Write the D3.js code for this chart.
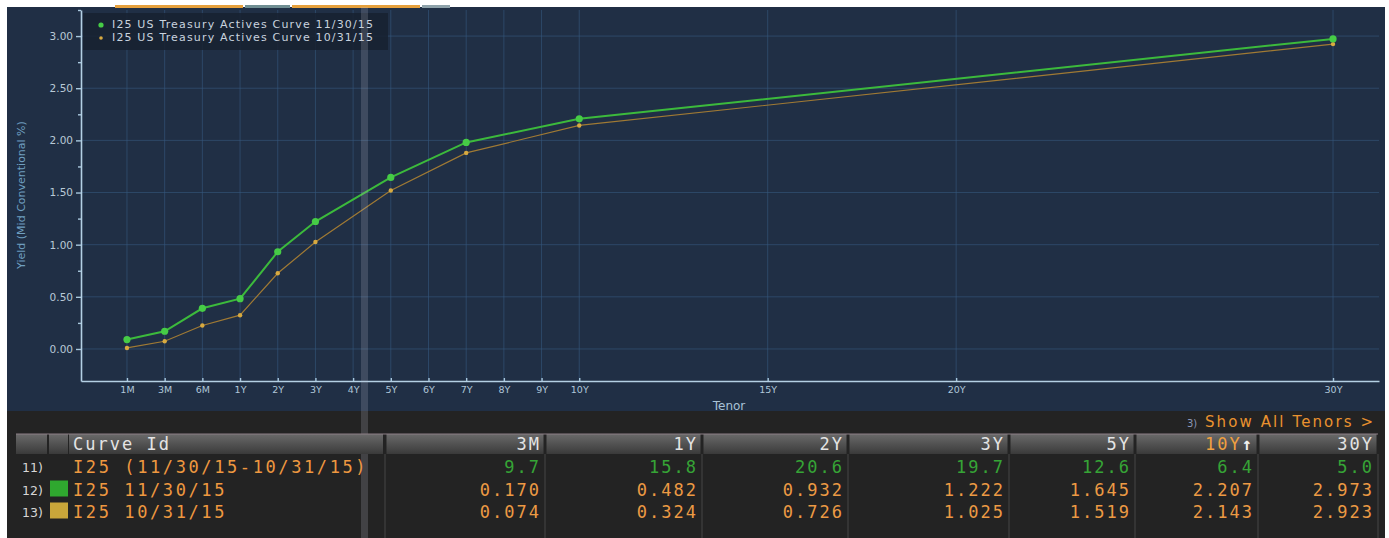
<!DOCTYPE html>
<html>
<head>
<meta charset="utf-8">
<script src="https://cdn.jsdelivr.net/npm/d3@7"></script>
<style>
  body { margin: 0; background: #fff; }
  svg { display: block; }
</style>
</head>
<body>
<svg id="main-svg" width="1389" height="538"></svg>
<script>
'use strict'

// curve points (table values where given)
const curveYears = [1 / 12, 0.25, 0.5, 1, 2, 3, 5, 7, 10, 30]
const novYields = [0.09, 0.170, 0.39, 0.482, 0.932, 1.222, 1.645, 1.98, 2.207, 2.973]
const octYields = [0.01, 0.074, 0.225, 0.324, 0.726, 1.025, 1.519, 1.88, 2.143, 2.923]
const seriesNames = ['I25 US Treasury Actives Curve 11/30/15', 'I25 US Treasury Actives Curve 10/31/15']

// axis ticks
const tickLabels = ['1M', '3M', '6M', '1Y', '2Y', '3Y', '4Y', '5Y', '6Y', '7Y', '8Y', '9Y', '10Y', '15Y', '20Y', '30Y']
const tickYears = [1 / 12, 0.25, 0.5, 1, 2, 3, 4, 5, 6, 7, 8, 9, 10, 15, 20, 30]
const yTicks = [0, 0.5, 1, 1.5, 2, 2.5, 3]
const yMinorTicks = [0.25, 0.75, 1.25, 1.75, 2.25, 2.75, 3.25]

// table below the chart
const tableTenors = ['3M', '1Y', '2Y', '3Y', '5Y', '10Y', '30Y']
const tableChange = [9.7, 15.8, 20.6, 19.7, 12.6, 6.4, 5.0]
const tableNov = [0.170, 0.482, 0.932, 1.222, 1.645, 2.207, 2.973]
const tableOct = [0.074, 0.324, 0.726, 1.025, 1.519, 2.143, 2.923]
const rowIds = ['11)', '12)', '13)']
const rowNames = ['I25 (11/30/15-10/31/15)', 'I25 11/30/15', 'I25 10/31/15']

// layout
const plot = { left: 81, right: 1379, top: 10, bottom: 381 }
const colEdges = [385, 545, 702, 848, 1009, 1135, 1258, 1378]
const rowBase = [473, 495.5, 517.5]
const monoFont = "'DejaVu Sans Mono', monospace"

const svg = d3.select('#main-svg')

// panels
svg.append('rect').attr('x', 7).attr('y', 7).attr('width', 1378).attr('height', 404).attr('fill', '#202f45')
svg.append('rect').attr('x', 7).attr('y', 411).attr('width', 1378).attr('height', 127).attr('fill', '#232323')

// tab strips at the top edge
const tabs = [[115, 243, '#e6a03c'], [245, 290, '#6f8e92'], [292, 420, '#e6a03c'], [422, 450, '#8ea2aa']]
svg.selectAll('.tab').data(tabs).join('rect')
  .attr('x', d => d[0]).attr('y', 5).attr('width', d => d[1] - d[0]).attr('height', 3)
  .attr('fill', d => d[2])

// scales: short end is spaced one step per tenor, then linear in years
const tenorUnit = d3.scaleLinear().domain([1 / 12, 0.25, 0.5, 1, 30]).range([-2, -1, 0, 1, 30])
const x = d3.scaleLinear().domain([-3.22, 31.22]).range([plot.left, plot.right])
const y = d3.scaleLinear().domain([-0.307, 3.25]).range([plot.bottom, plot.top])
const xPos = yrs => x(tenorUnit(yrs))

// grid
const grid = svg.append('g').attr('stroke', '#36587e').attr('stroke-opacity', 0.6).attr('stroke-width', 1)
grid.selectAll('.vg').data(tickYears).join('line')
  .attr('x1', d => xPos(d)).attr('x2', d => xPos(d))
  .attr('y1', plot.top).attr('y2', plot.bottom)
grid.selectAll('.hg').data(yTicks).join('line')
  .attr('x1', plot.left).attr('x2', plot.right)
  .attr('y1', d => y(d)).attr('y2', d => y(d))

// axes
const yAxis = svg.append('g').attr('transform', `translate(${plot.left},0)`)
  .call(d3.axisLeft(y).tickValues(yTicks).tickFormat(d3.format('.2f')).tickSize(5).tickSizeOuter(0).tickPadding(3))
svg.append('g').attr('transform', `translate(${plot.left},0)`)
  .call(d3.axisLeft(y).tickValues(yMinorTicks).tickFormat('').tickSize(3).tickSizeOuter(0))
  .call(g => g.select('.domain').remove())

const xAxis = svg.append('g').attr('transform', `translate(0,${plot.bottom})`)
  .call(d3.axisBottom(x).tickValues(tickYears.map(tenorUnit)).tickFormat((d, i) => tickLabels[i])
    .tickSize(-3).tickSizeOuter(0).tickPadding(5))

svg.selectAll('.domain').attr('stroke', '#b4d0e4').attr('stroke-width', 1.6)
svg.selectAll('.tick line').attr('stroke', '#a9c8de').attr('stroke-width', 1.4)
yAxis.selectAll('text').attr('fill', '#b9c9d6').attr('font-family', 'DejaVu Sans').attr('font-size', 10.5)
xAxis.selectAll('text').attr('fill', '#afc6d8').attr('font-family', 'DejaVu Sans').attr('font-size', 9.5)

svg.append('text').attr('transform', 'translate(22,195) rotate(-90)')
  .attr('text-anchor', 'middle').attr('dominant-baseline', 'middle')
  .attr('fill', '#6f9fc0').attr('font-family', 'DejaVu Sans').attr('font-size', 11)
  .text('Yield (Mid Conventional %)')
svg.append('text').attr('x', 729).attr('y', 410).attr('text-anchor', 'middle')
  .attr('fill', '#a9c2d6').attr('font-family', 'DejaVu Sans').attr('font-size', 12)
  .text('Tenor')

// curves
const line = d3.line().x((d, i) => xPos(curveYears[i])).y(d => y(d))
svg.append('path').datum(octYields).attr('d', line)
  .attr('fill', 'none').attr('stroke', '#a07a34').attr('stroke-width', 1.2)
svg.append('path').datum(novYields).attr('d', line)
  .attr('fill', 'none').attr('stroke', '#3cba3c').attr('stroke-width', 2)
svg.selectAll('.oct-pt').data(octYields).join('circle')
  .attr('cx', (d, i) => xPos(curveYears[i])).attr('cy', d => y(d)).attr('r', 2.2)
  .attr('fill', '#d8aa40')
svg.selectAll('.nov-pt').data(novYields).join('circle')
  .attr('cx', (d, i) => xPos(curveYears[i])).attr('cy', d => y(d)).attr('r', 3.6)
  .attr('fill', '#46cc46')

// legend
const legend = svg.append('g')
legend.append('rect').attr('x', 83).attr('y', 13).attr('width', 305).attr('height', 37)
  .attr('fill', '#172130').attr('opacity', 0.85)
const legendColors = ['#46cc46', '#d8aa40']
seriesNames.forEach((name, i) => {
  legend.append('circle').attr('cx', 101).attr('cy', 25 + i * 13).attr('r', i === 0 ? 2.6 : 1.8)
    .attr('fill', legendColors[i])
  legend.append('text').attr('x', 112).attr('y', 25 + i * 13).attr('dominant-baseline', 'middle')
    .attr('fill', '#c9d3df').attr('font-family', 'DejaVu Sans').attr('font-size', 11)
    .attr('textLength', 261).text(name)
})

// light streak across the picture
svg.append('rect').attr('x', 361).attr('y', 7).attr('width', 7).attr('height', 531)
  .attr('fill', '#c0c0cc').attr('opacity', 0.2)

// table
const defs = svg.append('defs')
const grad = defs.append('linearGradient').attr('id', 'hdr').attr('x1', 0).attr('x2', 0).attr('y1', 0).attr('y2', 1)
grad.append('stop').attr('offset', '0%').attr('stop-color', '#6a6a6a')
grad.append('stop').attr('offset', '100%').attr('stop-color', '#3a3a3a')

const table = svg.append('g')
const headerCells = [[16, 47], [49, 68], [69, 383]].concat(d3.pairs(colEdges).map(p => [p[0] + 1.5, p[1] - 1.5]))
table.selectAll('.hdr').data(headerCells).join('rect')
  .attr('x', d => d[0]).attr('y', 434).attr('width', d => d[1] - d[0]).attr('height', 20)
  .attr('fill', 'url(#hdr)')
table.append('line').attr('x1', 16).attr('x2', 1378).attr('y1', 434).attr('y2', 434)
  .attr('stroke', '#8c7f86').attr('stroke-width', 1.2)
table.selectAll('.sep').data(colEdges).join('line')
  .attr('x1', d => d).attr('x2', d => d).attr('y1', 454).attr('y2', 538)
  .attr('stroke', '#3b3b3b').attr('stroke-width', 1.5)

const cellText = (sel) => sel.attr('font-family', monoFont).attr('font-size', 17).attr('letter-spacing', 2)

table.append('text').attr('x', 73).attr('y', 450).call(cellText).attr('fill', '#e4e4e4').text('Curve Id')

d3.pairs(colEdges).forEach((p, i) => {
  const tx = p[1] - 4
  const h = table.append('text').attr('x', tx).attr('y', 450).attr('text-anchor', 'end').call(cellText)
  if (tableTenors[i] === '10Y') {
    h.append('tspan').attr('fill', '#f0a040').text('10Y')
    h.append('tspan').attr('fill', '#f2f2f2').attr('font-weight', 'bold').text('\u2191')
  } else {
    h.attr('fill', '#e4e4e4').text(tableTenors[i])
  }
  table.append('text').attr('x', tx).attr('y', rowBase[0]).attr('text-anchor', 'end').call(cellText)
    .attr('fill', '#36a436').text(d3.format('.1f')(tableChange[i]))
  table.append('text').attr('x', tx).attr('y', rowBase[1]).attr('text-anchor', 'end').call(cellText)
    .attr('fill', '#ec9a44').text(d3.format('.3f')(tableNov[i]))
  table.append('text').attr('x', tx).attr('y', rowBase[2]).attr('text-anchor', 'end').call(cellText)
    .attr('fill', '#ec9a44').text(d3.format('.3f')(tableOct[i]))
})

rowIds.forEach((id, i) => {
  table.append('text').attr('x', 22).attr('y', rowBase[i] - 1).attr('fill', '#d6d6d6')
    .attr('font-family', 'DejaVu Sans').attr('font-size', 12.5).text(id)
  table.append('text').attr('x', 73).attr('y', rowBase[i]).call(cellText)
    .attr('letter-spacing', 2.6).attr('fill', '#ee9840').text(rowNames[i])
})
const swatch = ['#2fa82f', '#c9a63a']
swatch.forEach((c, i) => {
  table.append('rect').attr('x', 50).attr('y', rowBase[i + 1] - 15).attr('width', 18).attr('height', 16).attr('fill', c)
})

svg.append('text').attr('x', 1187).attr('y', 427).attr('fill', '#8a97b8')
  .attr('font-family', 'DejaVu Sans').attr('font-size', 10).text('3)')
svg.append('text').attr('x', 1205).attr('y', 427).attr('fill', '#ea922f')
  .attr('font-family', 'DejaVu Sans').attr('font-size', 15).attr('textLength', 168)
  .text('Show All Tenors >')
</script>
</body>
</html>
